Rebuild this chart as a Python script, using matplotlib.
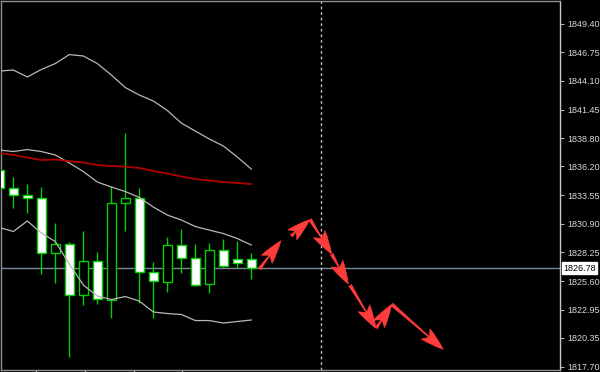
import matplotlib
matplotlib.use("Agg")
import matplotlib.pyplot as plt
import numpy as np

# ---- data ----
opens  = [1835.86, 1834.20, 1833.55, 1833.27, 1828.19, 1829.02, 1824.31, 1827.45, 1823.85, 1832.81,
          1833.27, 1826.43, 1825.51, 1828.93, 1827.73, 1825.32, 1828.47, 1827.64, 1827.64]
highs  = [1836.14, 1835.21, 1834.56, 1834.29, 1830.96, 1829.21, 1830.22, 1828.28, 1834.38, 1839.28,
          1834.20, 1827.36, 1829.67, 1830.41, 1829.02, 1829.11, 1829.48, 1829.30, 1828.19]
lows   = [1833.92, 1832.35, 1831.89, 1826.25, 1825.42, 1818.58, 1823.38, 1823.48, 1822.18, 1830.22,
          1823.57, 1822.18, 1824.58, 1826.34, 1825.14, 1824.49, 1826.80, 1826.80, 1825.79]
closes = [1834.20, 1833.55, 1833.27, 1828.19, 1829.02, 1824.31, 1827.45, 1823.94, 1832.81, 1833.27,
          1826.43, 1825.60, 1828.93, 1827.73, 1825.23, 1828.47, 1826.99, 1827.27, 1826.78]

bb_upper = [1845.01, 1845.10, 1844.46, 1845.15, 1845.70, 1846.53, 1846.40, 1845.70, 1844.64, 1843.48,
            1842.79, 1842.24, 1841.36, 1840.20, 1839.46, 1838.73, 1838.08, 1837.06, 1835.95]
bb_middle = [1837.71, 1837.57, 1837.75, 1837.57, 1837.25, 1836.51, 1835.72, 1834.75, 1834.29, 1833.87,
             1833.32, 1832.44, 1831.70, 1831.24, 1830.64, 1830.31, 1829.99, 1829.53, 1828.93]
bb_lower = [1830.55, 1830.18, 1831.15, 1830.04, 1829.25, 1827.17, 1825.23, 1824.22, 1823.89, 1824.17,
            1823.75, 1822.74, 1822.60, 1822.51, 1821.95, 1821.95, 1821.72, 1821.86, 1822.00]
ma_red = [1837.43, 1837.25, 1837.02, 1836.78, 1836.83, 1836.69, 1836.55, 1836.32, 1836.23, 1836.17,
          1836.05, 1835.77, 1835.54, 1835.26, 1835.03, 1834.89, 1834.75, 1834.66, 1834.57]

# forecast arrows: (x_start, y_start, x_end, y_end) in bar index / price
arrow_x0 = [18.57, 20.84, 22.19, 23.74, 25.05, 26.91, 28.03]
arrow_y0 = [1826.71, 1829.76, 1831.30, 1828.10, 1825.23, 1821.23, 1823.45]
arrow_x1 = [20.12, 22.19, 23.74, 24.93, 26.91, 28.03, 31.71]
arrow_y1 = [1829.33, 1831.30, 1828.10, 1825.32, 1821.23, 1823.45, 1819.29]

current_price = 1826.78
separator_x = 23.0
ytick_values = [1849.40, 1846.75, 1844.10, 1841.45, 1838.80, 1836.20, 1833.55,
                1830.90, 1828.25, 1825.60, 1822.95, 1820.35, 1817.70]
xtick_positions = [2.6, 6.1, 9.6, 13.05]

# ---- figure ----
fig = plt.figure(figsize=(6, 3.72), dpi=100, facecolor="black")
ax = fig.add_axes([1 / 600, 2 / 372, 559 / 600, 369 / 372])
ax.set_facecolor("black")

x = np.arange(len(opens))
green = "#00d000"
ax.vlines(x, lows, highs, color=green, lw=1, zorder=2)
bottoms = [min(o, c) for o, c in zip(opens, closes)]
heights = [abs(c - o) for o, c in zip(opens, closes)]
faces = ["white" if c < o else "black" for o, c in zip(opens, closes)]
ax.bar(x, heights, bottom=bottoms, width=0.64, color=faces, edgecolor=green,
       linewidth=1, zorder=3)

band_color = "#b8b8b8"
ax.plot(x, bb_upper, color=band_color, lw=0.9, zorder=4)
ax.plot(x, bb_middle, color=band_color, lw=0.9, zorder=4)
ax.plot(x, bb_lower, color=band_color, lw=0.9, zorder=4)
ax.plot(x, ma_red, color="#b00000", lw=1.3, zorder=4)

ax.axhline(current_price, color="#7a8898", lw=1, zorder=1)
ax.axvline(separator_x, color="#c0c0c0", lw=1, ls=(0, (2, 2)), zorder=1)

for xs, ys, xe, ye in zip(arrow_x0, arrow_y0, arrow_x1, arrow_y1):
    ax.annotate("", xy=(xe, ye), xytext=(xs, ys),
                arrowprops=dict(arrowstyle="fancy,head_length=1.3,head_width=0.75,tail_width=0.18",
                                fc="#ff3c3c", ec="#ff3c3c", lw=0.4, shrinkA=0, shrinkB=0,
                                mutation_scale=13),
                zorder=5)

ax.set_xlim(0.12, 40.05)
ax.set_ylim(1817.38, 1851.48)

ax.yaxis.tick_right()
ax.set_yticks(ytick_values)
ax.set_yticklabels([f"{v:.2f}" for v in ytick_values],
                   fontsize=6.5, family="Liberation Sans", color="#d8d8d8")
ax.tick_params(axis="y", direction="out", length=3, width=0.8, color="#b0b0b0", pad=2)
ax.set_xticks(xtick_positions)
ax.set_xticklabels([])
ax.tick_params(axis="x", direction="out", length=2, width=0.8, color="#b0b0b0")

for s in ax.spines.values():
    s.set_color("#909090")
    s.set_linewidth(1)
ax.spines["right"].set_color("#c8c8c8")

ax.annotate(f"{current_price:.2f}", xy=(1, current_price),
            xycoords=("axes fraction", "data"), xytext=(2.5, 0),
            textcoords="offset points", ha="left", va="center",
            fontsize=6.5, family="Liberation Sans", color="black",
            bbox=dict(boxstyle="square,pad=0.15", fc="white", ec="white"),
            annotation_clip=False)

fig.savefig("out.png", dpi=100, facecolor="black")
